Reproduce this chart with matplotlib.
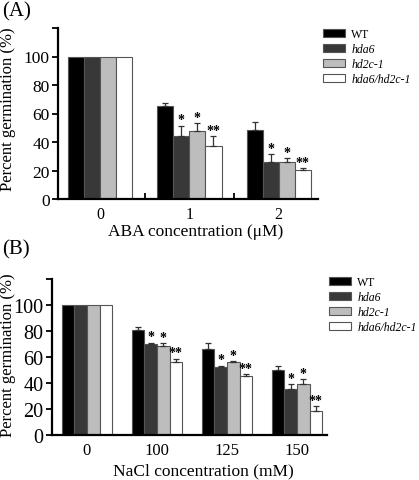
import matplotlib
matplotlib.use('Agg')
import matplotlib.pyplot as plt
import numpy as np

plt.rcParams['font.family'] = ['Liberation Serif', 'DejaVu Serif']

# genotypes and bar colours
genotypes = ['WT', 'hda6', 'hd2c-1', 'hda6/hd2c-1']
colors = ['#000000', '#383838', '#bdbdbd', '#ffffff']
stars = ['', '*', '*', '**']

# (A) ABA
aba_conc = ['0', '1', '2']
aba_wt = [100, 65.5, 48.5]
aba_hda6 = [100, 44, 26]
aba_hd2c = [100, 48, 25.7]
aba_double = [100, 37.3, 20.5]
aba_wt_err = [0, 2.2, 5.7]
aba_hda6_err = [0, 7.5, 5.5]
aba_hd2c_err = [0, 5, 2.8]
aba_double_err = [0, 6.7, 1.1]

# (B) NaCl
nacl_conc = ['0', '100', '125', '150']
nacl_wt = [100, 81, 66.4, 49.9]
nacl_hda6 = [100, 70, 52.2, 35.2]
nacl_hd2c = [100, 68.8, 55.8, 39]
nacl_double = [100, 56.5, 45.2, 18.2]
nacl_wt_err = [0, 2, 4.2, 3.3]
nacl_hda6_err = [0, 1, 1.2, 3.8]
nacl_hd2c_err = [0, 1.8, 1, 3.8]
nacl_double_err = [0, 2.3, 1.4, 4.1]


def draw_panel(ax, cats, vals, errs, ytick_size, xtick_size):
    x = np.arange(len(cats))
    w = 0.18
    for i, (v, e) in enumerate(zip(vals, errs)):
        pos = x + (i - 1.5) * w
        v = np.array(v)
        e = np.array(e)
        ax.bar(pos, v, w, color=colors[i], edgecolor='#555555', linewidth=0.8,
               label=genotypes[i], zorder=2)
        ax.errorbar(pos[1:], v[1:], yerr=[np.zeros(len(e) - 1), e[1:]],
                    fmt='none', ecolor='#333333', elinewidth=0.9, capsize=2.5,
                    capthick=0.9, zorder=3)
        if stars[i]:
            for p, vv, ee in zip(pos[1:], v[1:], e[1:]):
                ax.text(p, vv + ee - 0.5, stars[i], ha='center', va='bottom',
                        fontsize=10, fontweight='bold')
    ax.set_ylim(0, 120)
    ax.set_yticks([0, 20, 40, 60, 80, 100, 120])
    ax.set_yticklabels(['0', '20', '40', '60', '80', '100', ''], fontsize=ytick_size)
    ax.set_xticks(x)
    ax.set_xticklabels(cats, fontsize=xtick_size)
    ax.tick_params(axis='x', length=0, pad=5)
    ax.tick_params(axis='y', direction='out', length=4, width=1.3, pad=2)
    for s in ['top', 'right']:
        ax.spines[s].set_visible(False)
    for s in ['left', 'bottom']:
        ax.spines[s].set_linewidth(1.6)
    return x


fig = plt.figure(figsize=(4.19, 4.81), dpi=100)

axA = fig.add_axes([58 / 419, 1 - 200 / 481, 260 / 419, 171 / 481])
aba_vals = [aba_wt, aba_hda6, aba_hd2c, aba_double]
aba_errs = [aba_wt_err, aba_hda6_err, aba_hd2c_err, aba_double_err]
draw_panel(axA, aba_conc, aba_vals, aba_errs, 12.5, 11.5)
axA.set_xlim(-0.47, 2.44)
axA.set_xticks([0.5, 1.5], minor=True)
axA.tick_params(axis='x', which='minor', direction='in', length=4, width=1.3)
axA.set_xlabel('ABA concentration (\u03bcM)', fontsize=12.5)
axA.xaxis.set_label_coords(0.53, -0.14)
axA.set_ylabel('Percent germination (%)', fontsize=12)
axA.yaxis.set_label_coords(-0.16, 0.53)

axB = fig.add_axes([52 / 419, 1 - 436 / 481, 275 / 419, 156 / 481])
nacl_vals = [nacl_wt, nacl_hda6, nacl_hd2c, nacl_double]
nacl_errs = [nacl_wt_err, nacl_hda6_err, nacl_hd2c_err, nacl_double_err]
draw_panel(axB, nacl_conc, nacl_vals, nacl_errs, 14.5, 12)
axB.set_xlim(-0.5, 3.43)
axB.set_xlabel('NaCl concentration (mM)', fontsize=12.5)
axB.xaxis.set_label_coords(0.55, -0.175)
axB.set_ylabel('Percent germination (%)', fontsize=12)
axB.yaxis.set_label_coords(-0.13, 0.52)

for ax, left, top in [(axA, 323 / 419, 1 - 29 / 481), (axB, 329 / 419, 1 - 277 / 481)]:
    leg = ax.legend(loc='upper left', bbox_to_anchor=(left, top),
                    bbox_transform=fig.transFigure, frameon=False, fontsize=8.5,
                    handlelength=1.9, handleheight=0.7, handletextpad=0.5,
                    labelspacing=0.25, borderpad=0, borderaxespad=0)
    for t in leg.get_texts()[1:]:
        t.set_fontstyle('italic')

fig.text(2 / 419, 1 - 2 / 481, '(A)', fontsize=15, ha='left', va='top')
fig.text(2 / 419, 1 - 240 / 481, '(B)', fontsize=15, ha='left', va='top')

fig.savefig('out.png', dpi=100)
